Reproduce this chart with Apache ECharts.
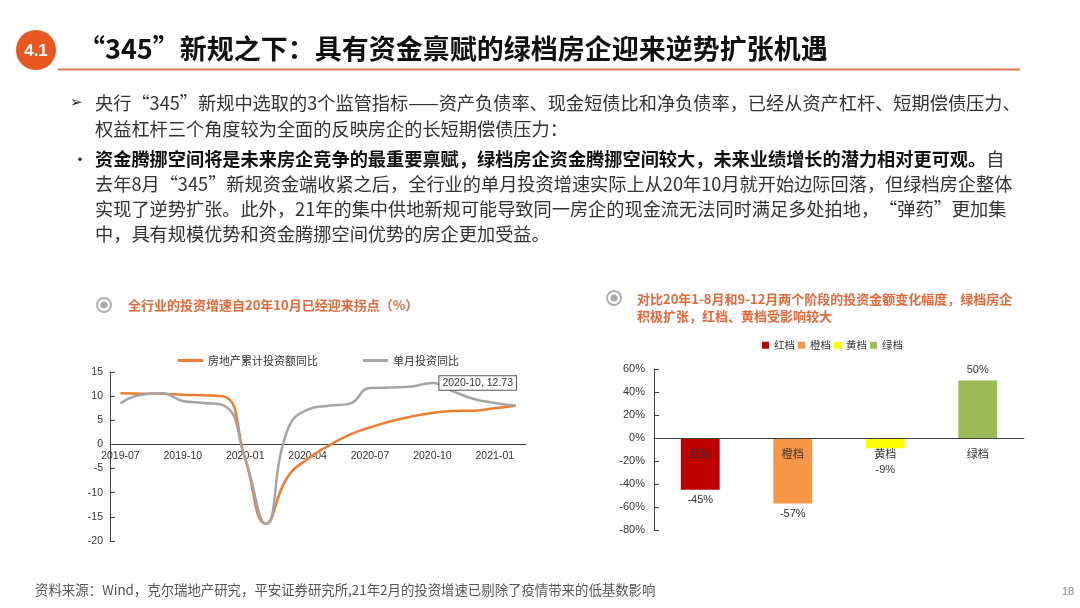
<!DOCTYPE html>
<html>
<head>
<meta charset="utf-8">
<script src="https://cdn.jsdelivr.net/npm/echarts@6/dist/echarts.min.js"></script>
<style>
html,body{margin:0;padding:0;background:#fff;}
#c{width:1080px;height:608px;}
</style>
</head>
<body>
<div id="c"></div>
<script>
// ---- data ----
const lineCategories = ['2019-07','2019-08','2019-09','2019-10','2019-11','2019-12','2020-01','2020-02','2020-03','2020-04','2020-05','2020-06','2020-07','2020-08','2020-09','2020-10','2020-11','2020-12','2021-01','2021-02'];
const cumulativeYoY = [10.6, 10.5, 10.5, 10.3, 10.2, 9.9, -3.0, -16.4, -7.0, -3.0, -0.3, 2.0, 3.5, 4.8, 5.8, 6.5, 6.9, 7.0, 7.5, 8.0];
const monthlyYoY = [8.5, 10.3, 10.6, 9.0, 8.6, 8.0, -3.0, -16.4, 2.6, 7.2, 8.0, 8.4, 11.7, 11.8, 12.0, 12.73, 11.0, 9.4, 8.6, 8.0];
const lineSeriesNames = ['房地产累计投资额同比', '单月投资同比'];
const annotatedIndex = 15;
const leftYTicks = {min: -20, max: 15, interval: 5};

const tierNames = ['红档', '橙档', '黄档', '绿档'];
const tierChange = [-45, -57, -9, 50];
const rightYTicks = {min: -80, max: 60, interval: 20};

// ---- layout / styles ----
const gridL = {left: 110, top: 372, width: 416, height: 169};
const gridR = {left: 654, top: 369, width: 370, height: 161};
const tierColors = ['#C00000', '#F79646', '#FFFF00', '#9BBB59'];
const CJK = 'Noto Sans CJK SC';
const AXIS_FONT = 'Liberation Sans, Arial, Noto Sans CJK SC';
const accent = '#E5683A';

// distance (px) from the bottom of a grid up to the value-axis zero line
function zeroLift(grid, ticks) {
  return grid.height * (0 - ticks.min) / (ticks.max - ticks.min);
}

const chart = echarts.init(document.getElementById('c'));

function txt(x, y, text, size, opts) {
  opts = opts || {};
  return {
    type: 'text', x: x, y: y, z: 10,
    style: Object.assign({
      text: text, fontSize: size, fontFamily: CJK, fill: '#333',
      align: 'left', verticalAlign: 'middle'
    }, opts)
  };
}
function icon(cx, cy) {
  return [
    {type: 'circle', shape: {cx: cx, cy: cy, r: 7}, style: {fill: '#fff', stroke: '#B0B0B0', lineWidth: 2}, z: 10},
    {type: 'circle', shape: {cx: cx, cy: cy, r: 3.5}, style: {fill: '#A8A8A8'}, z: 10}
  ];
}

const graphics = [
  {type: 'circle', shape: {cx: 36, cy: 50, r: 20}, style: {fill: '#E8571F'}, z: 10},
  txt(36, 51, '4.1', 17, {fill: '#fff', align: 'center', fontFamily: 'Liberation Sans', fontWeight: 'bold'}),
  txt(78, 49, '“345”新规之下：具有资金禀赋的绿档房企迎来逆势扩张机遇', 27, {fill: '#111', fontWeight: 'bold'}),
  {type: 'line', shape: {x1: 58, y1: 69.5, x2: 1020, y2: 69.5}, style: {stroke: '#E0794F', lineWidth: 2}, z: 10},
  txt(70, 103, '➢', 15, {fontFamily: 'DejaVu Sans', fill: '#222'}),
  txt(95, 103, '央行“345”新规中选取的3个监管指标——资产负债率、现金短债比和净负债率，已经从资产杠杆、短期偿债压力、', 18.2),
  txt(95, 129, '权益杠杆三个角度较为全面的反映房企的长短期偿债压力：', 18.2),
  txt(72, 159, '•', 16, {fill: '#222'}),
  {type: 'text', x: 95, y: 159, z: 10, style: {
    text: '{b|资金腾挪空间将是未来房企竞争的最重要禀赋，绿档房企资金腾挪空间较大，未来业绩增长的潜力相对更可观。}{n|自}',
    fontSize: 18.2, fontFamily: CJK, fill: '#333', verticalAlign: 'middle',
    rich: {
      b: {fontSize: 18.2, fontFamily: CJK, fontWeight: 'bold', fill: '#111'},
      n: {fontSize: 18.2, fontFamily: CJK, fill: '#333'}
    }
  }},
  txt(95, 184, '去年8月“345”新规资金端收紧之后，全行业的单月投资增速实际上从20年10月就开始边际回落，但绿档房企整体', 18.2),
  txt(95, 209, '实现了逆势扩张。此外，21年的集中供地新规可能导致同一房企的现金流无法同时满足多处拍地，“弹药”更加集', 18.2),
  txt(95, 234, '中，具有规模优势和资金腾挪空间优势的房企更加受益。', 18.2),
  ...icon(104, 305),
  txt(128, 305, '全行业的投资增速自20年10月已经迎来拐点（%）', 13, {fill: accent, fontWeight: 'bold'}),
  ...icon(614, 298),
  txt(637, 299, '对比20年1-8月和9-12月两个阶段的投资金额变化幅度，绿档房企', 13, {fill: accent, fontWeight: 'bold'}),
  txt(637, 316, '积极扩张，红档、黄档受影响较大', 13, {fill: accent, fontWeight: 'bold'}),
  txt(35, 590, '资料来源：Wind，克尔瑞地产研究，平安证券研究所,21年2月的投资增速已剔除了疫情带来的低基数影响', 13.4, {fill: '#555'}),
  txt(1062, 592, '18', 11, {fill: '#888', fontFamily: 'Liberation Sans'})
];

const axisLineStyle = {color: '#404040', width: 1};

const option = {
  animation: false,
  textStyle: {fontFamily: AXIS_FONT},
  graphic: graphics,
  legend: [
    {
      data: lineSeriesNames.map(n => ({name: n, icon: 'rect'})),
      left: 173, top: 350, itemWidth: 25, itemHeight: 3, itemGap: 45,
      textStyle: {fontSize: 11, color: '#333', fontFamily: CJK}
    },
    {
      data: tierNames.map(n => ({name: n, icon: 'rect'})),
      left: 757, top: 335, itemWidth: 7, itemHeight: 7, itemGap: 3,
      textStyle: {fontSize: 10.5, color: '#333', fontFamily: CJK}
    }
  ],
  grid: [gridL, gridR],
  xAxis: [
    {
      gridIndex: 0, type: 'category', data: lineCategories, boundaryGap: true,
      position: 'bottom', offset: -zeroLift(gridL, leftYTicks),
      axisLine: {onZero: false, lineStyle: axisLineStyle},
      axisTick: {inside: true, length: 5, interval: 2, lineStyle: axisLineStyle},
      axisLabel: {interval: 2, fontSize: 10.5, color: '#333', margin: 6},
      splitLine: {show: false}
    },
    {
      gridIndex: 1, type: 'category', data: tierNames, z: 10,
      position: 'bottom', offset: -zeroLift(gridR, rightYTicks),
      axisLine: {onZero: false, lineStyle: axisLineStyle},
      axisTick: {inside: true, length: 5, lineStyle: axisLineStyle},
      axisLabel: {fontSize: 11, color: '#333', margin: 10, fontFamily: CJK},
      splitLine: {show: false}
    }
  ],
  yAxis: [
    {
      gridIndex: 0, type: 'value', min: leftYTicks.min, max: leftYTicks.max, interval: leftYTicks.interval,
      axisLine: {show: true, lineStyle: axisLineStyle},
      axisTick: {show: true, inside: true, length: 5, lineStyle: axisLineStyle},
      axisLabel: {fontSize: 10.5, color: '#333', margin: 7},
      splitLine: {show: false}
    },
    {
      gridIndex: 1, type: 'value', min: rightYTicks.min, max: rightYTicks.max, interval: rightYTicks.interval,
      axisLine: {show: true, lineStyle: axisLineStyle},
      axisTick: {show: true, inside: true, length: 5, lineStyle: axisLineStyle},
      axisLabel: {fontSize: 11, color: '#333', margin: 9, formatter: '{value}%'},
      splitLine: {show: false}
    }
  ],
  series: [
    {
      name: lineSeriesNames[0], type: 'line', xAxisIndex: 0, yAxisIndex: 0,
      data: cumulativeYoY, smooth: true, showSymbol: false, symbol: 'none',
      lineStyle: {color: '#ED7D31', width: 2.5}, itemStyle: {color: '#ED7D31'}
    },
    {
      name: lineSeriesNames[1], type: 'line', xAxisIndex: 0, yAxisIndex: 0,
      data: monthlyYoY, smooth: true, showSymbol: false, symbol: 'none',
      lineStyle: {color: '#A5A5A5', width: 2.5}, itemStyle: {color: '#A5A5A5'},
      markPoint: {
        symbol: 'circle', symbolSize: 2,
        itemStyle: {color: '#A5A5A5'},
        data: [{
          coord: [lineCategories[annotatedIndex], monthlyYoY[annotatedIndex]],
          value: monthlyYoY[annotatedIndex]
        }],
        label: {
          show: true, position: 'right', distance: 6,
          formatter: lineCategories[annotatedIndex] + ', ' + monthlyYoY[annotatedIndex],
          fontSize: 10.5, color: '#333', backgroundColor: '#fff',
          borderColor: '#555', borderWidth: 1, padding: [2, 3, 1, 3]
        }
      }
    },
    ...tierNames.map((name, k) => ({
      name: name, type: 'bar', xAxisIndex: 1, yAxisIndex: 1, stack: 'tier',
      barWidth: '42%',
      data: tierChange.map((v, i) => (i === k ? v : '-')),
      itemStyle: {color: tierColors[k]},
      label: {
        show: true, position: tierChange[k] < 0 ? 'bottom' : 'top',
        // short negative bars: push the value label clear of the category label
        distance: (tierChange[k] < 0 && Math.abs(tierChange[k]) < 15) ? 16 : 5,
        formatter: '{c}%', fontSize: 11, color: '#333'
      }
    }))
  ]
};
chart.setOption(option);
</script>
</body>
</html>
